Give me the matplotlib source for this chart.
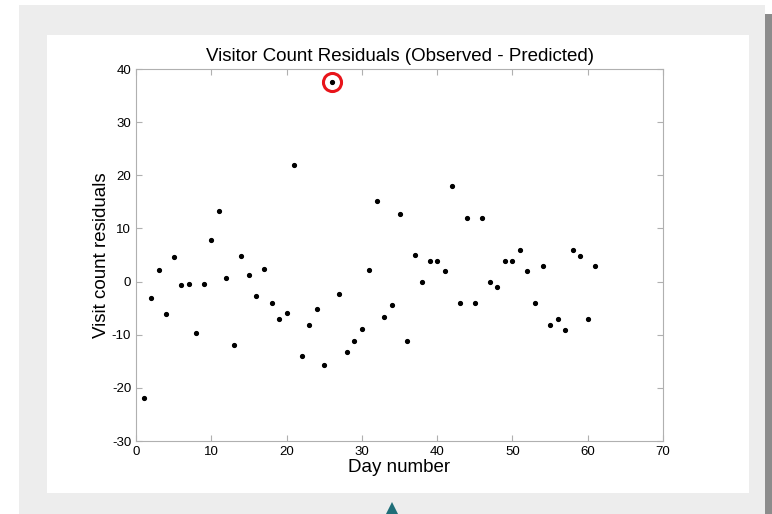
import matplotlib
matplotlib.use("Agg")
import matplotlib.pyplot as plt
from matplotlib.patches import Rectangle, Polygon

plt.rcParams['font.family'] = ['Liberation Sans', 'DejaVu Sans']
plt.rcParams['axes.unicode_minus'] = False

# residuals per day (observed - predicted)
days = list(range(1, 62))
residuals = [-22.0, -3.0, 2.2, -6.1, 4.7, -0.6, -0.5, -9.7, -0.4, 7.9,
             13.3, 0.7, -12.0, 4.9, 1.3, -2.8, 2.4, -4.1, -7.1, -6.0,
             21.9, -14.0, -8.1, -5.1, -15.7, 37.5, -2.4, -13.3, -11.1, -9.0,
             2.2, 15.2, -6.6, -4.5, 12.7, -11.2, 5.0, -0.1, 3.9, 3.9,
             2.0, 18.0, -4.0, 12.0, -4.0, 12.0, -0.1, -1.1, 3.9, 3.9,
             6.0, 2.0, -4.0, 2.9, -8.1, -7.0, -9.1, 6.0, 4.9, -7.0,
             2.9]
outlier_day = 26
xticks = [0, 10, 20, 30, 40, 50, 60, 70]
yticks = [-30, -20, -10, 0, 10, 20, 30, 40]

fig = plt.figure(figsize=(7.72, 5.14), dpi=100)
fig.patch.set_facecolor('white')

# page background, shadow strip and white panel
W, H = 772, 514
fig.patches.append(Rectangle((19 / W, 0), 746 / W, 509 / H, transform=fig.transFigure,
                             facecolor='#ededed', edgecolor='none', zorder=-3))
fig.patches.append(Rectangle((765 / W, 0), 7 / W, 500 / H, transform=fig.transFigure,
                             facecolor='#8c8c8c', edgecolor='none', zorder=-3))
fig.patches.append(Rectangle((47 / W, 21 / H), 702 / W, 458 / H, transform=fig.transFigure,
                             facecolor='white', edgecolor='none', zorder=-2))
fig.patches.append(Polygon([(386 / W, 0), (398 / W, 0), (392 / W, 12 / H)], closed=True,
                           transform=fig.transFigure, facecolor='#1f6e78',
                           edgecolor='none', zorder=-1))

ax = fig.add_axes([136 / W, 1 - 441 / H, 527 / W, 372 / H])
ax.set_zorder(5)
ax.plot(days, residuals, 'k.', markersize=5.5)
ax.plot([outlier_day], [residuals[days.index(outlier_day)]], 'o', markersize=13,
        markerfacecolor='none', markeredgecolor='#e8141a', markeredgewidth=2.2)

ax.set_xlim(0, 70)
ax.set_ylim(-30, 40)
ax.set_xticks(xticks)
ax.set_yticks(yticks)
for s in ax.spines.values():
    s.set_color('#b0b0b0')
ax.tick_params(direction='in', length=4, color='#b0b0b0', labelsize=9.5,
               top=True, right=True)
ax.set_title('Visitor Count Residuals (Observed - Predicted)', fontsize=13.5, pad=6)
ax.set_xlabel('Day number', fontsize=13.5, labelpad=1)
ax.set_ylabel('Visit count residuals', fontsize=13.5, labelpad=1)

fig.savefig('out.png', dpi=100)
